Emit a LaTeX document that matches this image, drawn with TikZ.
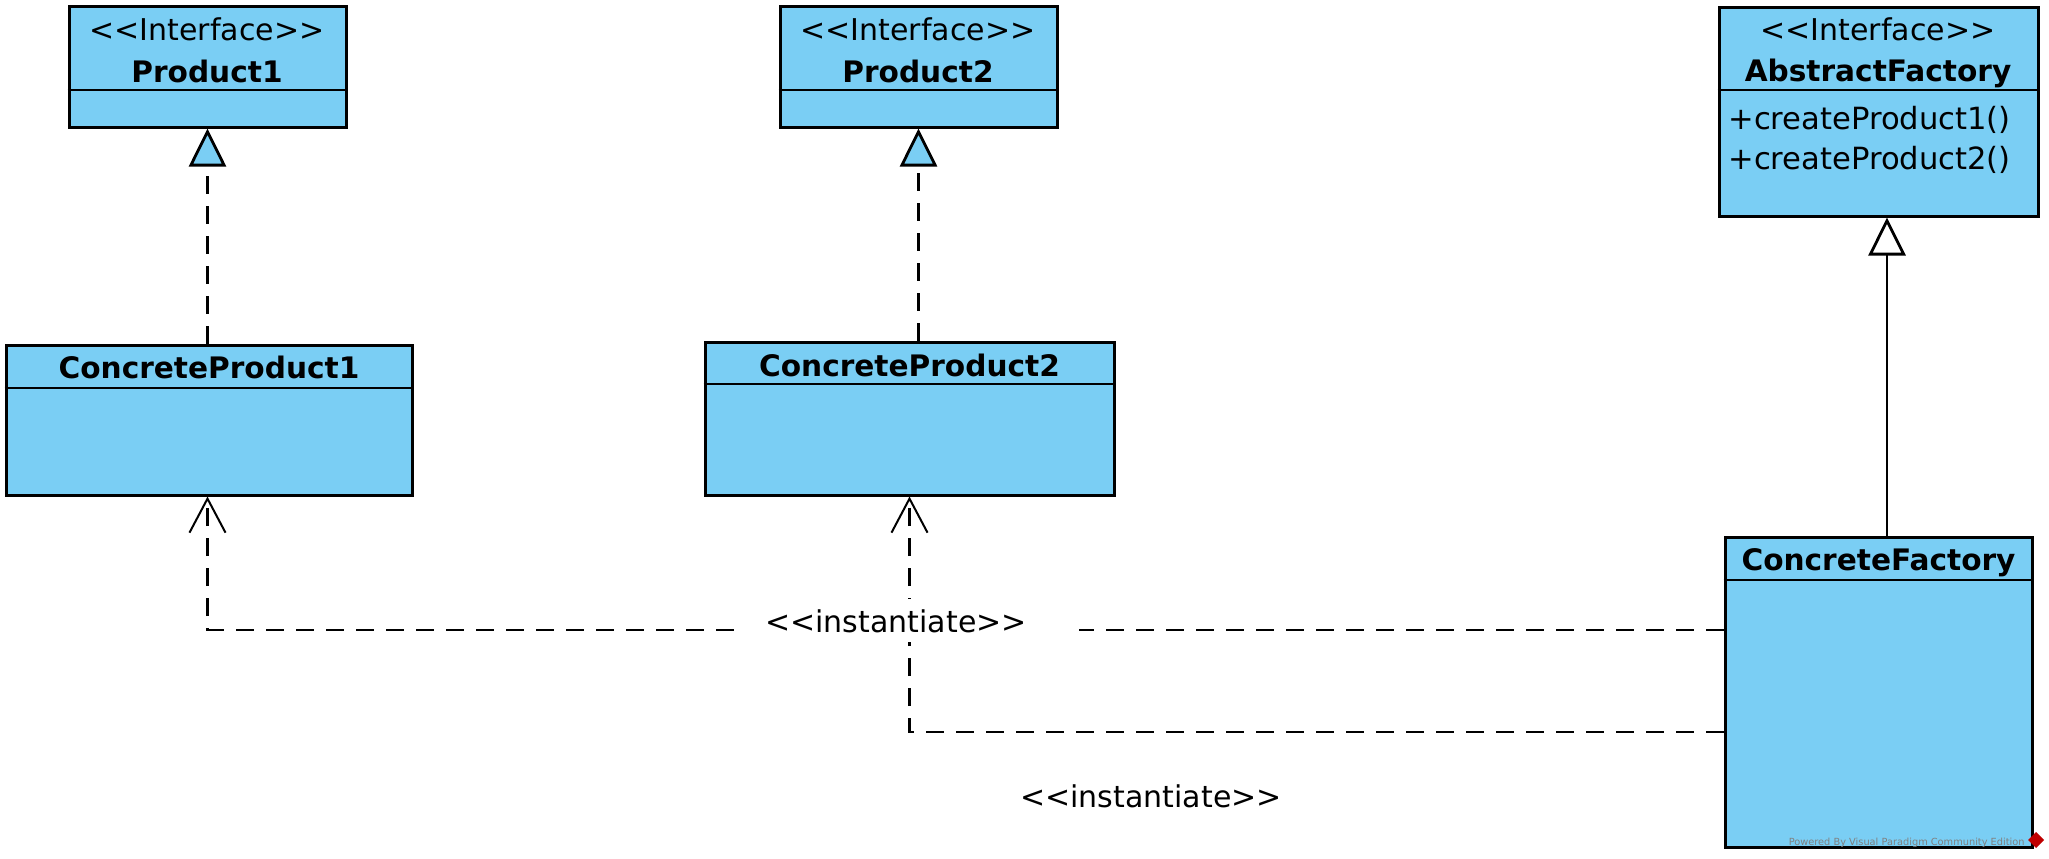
\documentclass[tikz,border=0pt]{standalone}
\usepackage{fontspec}
\setmainfont{DejaVu Sans}
\usetikzlibrary{arrows.meta,fit}
\definecolor{clsblue}{HTML}{7ACEF4}
\newcommand{\stt}[1]{<\kern0pt<#1>\kern0pt>}
\begin{document}
\begin{tikzpicture}[x=0.5pt,y=-0.5pt,
  cls/.style={draw=black, line width=1.5pt, fill=clsblue, inner sep=0pt},
  sepline/.style={line width=1.1pt},
  stereo/.style={font=\fontsize{15}{18}\selectfont, inner sep=0pt, anchor=base},
  cname/.style={font=\fontsize{14.8}{17}\selectfont\bfseries, inner sep=0pt, anchor=base},
  meth/.style={font=\fontsize{15.3}{18}\selectfont, inner sep=0pt, anchor=base west},
  real/.style={line width=1.4pt, dash pattern=on 9pt off 6pt, -{Triangle[length=19pt,width=18.5pt,fill=clsblue]}},
  gen/.style={line width=1.4pt, -{Triangle[length=19pt,width=18.5pt,fill=white]}},
  dep/.style={line width=1.4pt, dash pattern=on 9pt off 6pt, -{Straight Barb[length=17pt,width=18pt,line width=1pt]}},
  lbl/.style={font=\fontsize{15}{18}\selectfont, anchor=base}
]
\fill[white] (0,0) rectangle (2049,858);
\useasboundingbox (0,0) rectangle (2049,858);

% classes
\node[cls, fit={(69,6) (346,127)}] (p1) {};
\node[cls, fit={(780,6) (1057,127)}] (p2) {};
\node[cls, fit={(1719,7) (2038,216)}] (af) {};
\node[cls, fit={(6,345) (412,495)}] (cp1) {};
\node[cls, fit={(705,342) (1114,495)}] (cp2) {};
\node[cls, fit={(1725,537) (2032,847)}] (cf) {};

% compartments
\draw[sepline] (p1.west |- 0,90) -- (p1.east |- 0,90);
\draw[sepline] (p2.west |- 0,90) -- (p2.east |- 0,90);
\draw[sepline] (af.west |- 0,90) -- (af.east |- 0,90);
\draw[sepline] (cp1.west |- 0,388) -- (cp1.east |- 0,388);
\draw[sepline] (cp2.west |- 0,384) -- (cp2.east |- 0,384);
\draw[sepline] (cf.west |- 0,580) -- (cf.east |- 0,580);

% texts
\node[stereo] (p1s) at (207,40) {\stt{Interface}};
\node[cname] (p1n) at (207,82) {Product1};
\node[stereo] (p2s) at (918,40) {\stt{Interface}};
\node[cname] (p2n) at (918,82) {Product2};
\node[stereo] (afs) at (1878,40) {\stt{Interface}};
\node[cname] (afn) at (1878,81) {AbstractFactory};
\node[meth] (afm1) at (1728,129) {+createProduct1()};
\node[meth] (afm2) at (1728,169) {+createProduct2()};
\node[cname] (cp1n) at (209,378) {ConcreteProduct1};
\node[cname] (cp2n) at (909.5,376) {ConcreteProduct2};
\node[cname] (cfn) at (1878.5,570) {ConcreteFactory};

% connectors
\draw[real] (cp1.north -| p1.south) -- (p1.south);
\draw[real] (cp2.north -| p2.south) -- (p2.south);
\draw[gen] ([xshift=4.25pt]cf.north) -- ([xshift=4.25pt]af.south);
\draw[dep] (cf.west |- 0,630) -| (p1.south |- cp1.south);
\draw[dep] (cf.west |- 0,732) -| (cp2.south);

% labels
\node[lbl, fill=white, inner xsep=15.5pt, inner ysep=5pt] (i1) at (906.5,632) {\stt{instantiate}\hspace*{10.5pt}};
\node[lbl, inner sep=0pt] (i2) at (1151,807) {\stt{instantiate}};

% watermark
\node[anchor=base east, inner sep=0pt, font=\fontsize{4.9}{6}\selectfont, text=gray] (wm) at (2025,845) {Powered By Visual Paradigm Community Edition};
\fill[red!75!black] (2036,832) -- (2044,840) -- (2036,848) -- (2028,840) -- cycle;
\end{tikzpicture}
\end{document}
